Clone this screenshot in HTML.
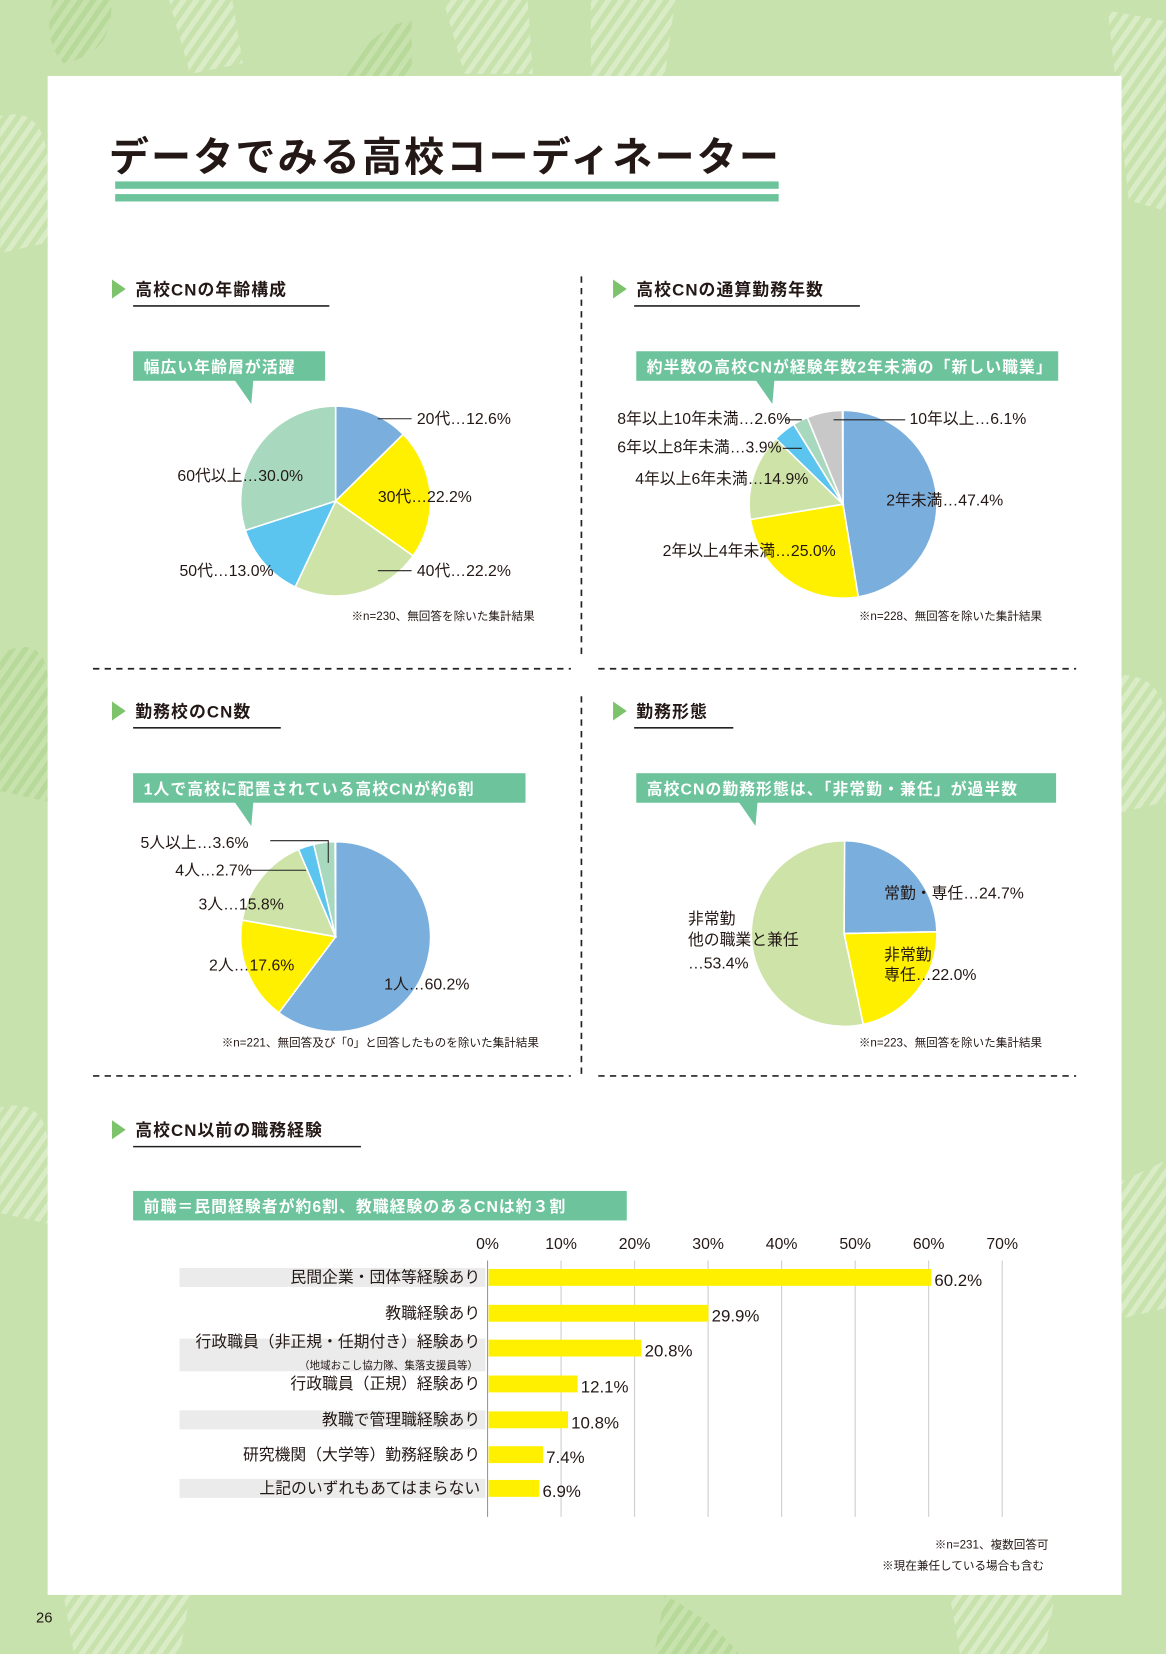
<!DOCTYPE html>
<html><head><meta charset="utf-8"><style>
html,body{margin:0;padding:0;background:#c8e2ad;}
svg{display:block;}
text{font-family:"Liberation Sans","Noto Sans CJK JP",sans-serif;fill:#231815;}
</style></head><body>
<svg id="s" width="1166" height="1654" viewBox="0 0 1105 1568" xmlns="http://www.w3.org/2000/svg">
<defs>
<pattern id="st" width="10" height="10" patternUnits="userSpaceOnUse" patternTransform="rotate(35)">
<rect width="10" height="10" fill="#c8e2ad"/><rect width="5" height="10" fill="#d9ecc6"/></pattern>
<pattern id="st2" width="10" height="10" patternUnits="userSpaceOnUse" patternTransform="rotate(35)">
<rect width="10" height="10" fill="#c8e2ad"/><rect width="5" height="10" fill="#b7d99a"/></pattern>
</defs>
<rect width="1105" height="1568" fill="#c8e2ad"/>
<path d="M50 0 L105 0 Q110 50 60 60 Q40 40 50 0Z" fill="url(#st2)"/>
<path d="M160 0 L220 0 L230 60 L180 70Z" fill="url(#st)"/>
<path d="M315 80 Q360 20 390 20 L390 72 L300 72Z" fill="url(#st2)"/>
<path d="M420 0 L500 0 L505 70 L440 70Z" fill="url(#st)"/>
<path d="M560 0 L640 0 L630 72 L560 72Z" fill="url(#st)"/>
<path d="M1050 10 L1105 20 L1105 200 L1070 190Z" fill="url(#st)"/>
<path d="M0 110 Q40 100 45 150 L45 230 L0 240Z" fill="url(#st)"/>
<path d="M0 620 Q40 600 45 640 L45 760 L0 750Z" fill="url(#st2)"/>
<path d="M0 1050 Q40 1040 45 1080 L45 1160 L0 1150Z" fill="url(#st)"/>
<path d="M1063 640 Q1100 640 1105 680 L1105 760 L1063 770Z" fill="url(#st)"/>
<path d="M1063 1120 L1105 1100 L1105 1240 L1063 1250Z" fill="url(#st)"/>
<path d="M60 1512 L180 1512 L170 1568 L70 1568Z" fill="url(#st)"/>
<path d="M630 1512 Q680 1540 700 1568 L620 1568Z" fill="url(#st2)"/>
<path d="M900 1512 L1000 1512 L990 1568 L910 1568Z" fill="url(#st)"/>
<rect x="45" y="72" width="1018" height="1440" fill="#fff"/>
<text x="103" y="162" font-size="38" font-weight="bold" letter-spacing="2">データでみる高校コーディネーター</text>
<rect x="109" y="172" width="629" height="7" fill="#6cc39c"/>
<rect x="109" y="184" width="629" height="7" fill="#6cc39c"/>
<g stroke="#222" stroke-width="1.6" stroke-dasharray="6,5" fill="none">
<line x1="551" y1="262" x2="551" y2="622"/><line x1="551" y1="660" x2="551" y2="1020"/>
<line x1="88" y1="634" x2="541" y2="634"/><line x1="567" y1="634" x2="1020" y2="634"/>
<line x1="88" y1="1020" x2="541" y2="1020"/><line x1="567" y1="1020" x2="1020" y2="1020"/>
</g>
<g id="heads"></g>
<g id="pies"></g>
<g font-size="15">
<text x="395" y="402">20代…12.6%</text>
<text x="358" y="476">30代…22.2%</text>
<text x="395" y="546">40代…22.2%</text>
<text x="170" y="546">50代…13.0%</text>
<text x="168" y="456">60代以上…30.0%</text>
<text x="862" y="402">10年以上…6.1%</text>
<text x="840" y="479">2年未満…47.4%</text>
<text x="628" y="527">2年以上4年未満…25.0%</text>
<text x="602" y="459">4年以上6年未満…14.9%</text>
<text x="585" y="429">6年以上8年未満…3.9%</text>
<text x="585" y="402">8年以上10年未満…2.6%</text>
<text x="133" y="804">5人以上…3.6%</text>
<text x="166" y="830">4人…2.7%</text>
<text x="188" y="862">3人…15.8%</text>
<text x="198" y="920">2人…17.6%</text>
<text x="364" y="938">1人…60.2%</text>
<text x="838" y="852">常勤・専任…24.7%</text>
<text x="838" y="910">非常勤</text><text x="838" y="929">専任…22.0%</text>
<text x="652" y="876">非常勤</text><text x="652" y="896">他の職業と兼任</text><text x="652" y="918">…53.4%</text>
</g>
<g stroke="#222" stroke-width="1" fill="none">
<line x1="358" y1="397" x2="390" y2="397"/><line x1="358" y1="541" x2="390" y2="541"/>
<line x1="790" y1="398" x2="858" y2="398"/><line x1="744" y1="398" x2="760" y2="398"/><line x1="742" y1="425" x2="760" y2="425"/>
<polyline points="256,797 311,797 311,818"/><line x1="236" y1="825" x2="290" y2="825"/>
</g>
<g font-size="11">
<text x="333" y="588">※n=230、無回答を除いた集計結果</text>
<text x="814" y="588">※n=228、無回答を除いた集計結果</text>
<text x="210" y="992">※n=221、無回答及び「0」と回答したものを除いた集計結果</text>
<text x="814" y="992">※n=223、無回答を除いた集計結果</text>
<text x="886" y="1468">※n=231、複数回答可</text>
<text x="836" y="1488">※現在兼任している場合も含む</text>
</g>
<g id="bars"></g>
<text x="34" y="1538" font-size="14">26</text>
</svg>
<script>
var NS="http://www.w3.org/2000/svg";
function el(p,t,a,tx){var e=document.createElementNS(NS,t);for(var k in a)e.setAttribute(k,a[k]);if(tx)e.textContent=tx;document.getElementById(p).appendChild(e);return e;}
var C={b:"#7aaedd",y:"#fff000",g:"#cde3a8",c:"#5bc4ef",m:"#a8d8be",r:"#c8c8c8"};
function pie(cx,cy,r,d){var a=0;d.forEach(function(s){var a2=a+s[0]/100*2*Math.PI;var x1=cx+r*Math.sin(a),y1=cy-r*Math.cos(a),x2=cx+r*Math.sin(a2),y2=cy-r*Math.cos(a2);
el("pies","path",{d:"M"+cx+" "+cy+"L"+x1+" "+y1+"A"+r+" "+r+" 0 "+((a2-a)>Math.PI?1:0)+" 1 "+x2+" "+y2+"Z",fill:C[s[1]],stroke:"#fff","stroke-width":1.5});a=a2;});}
pie(318,475,90,[[12.6,"b"],[22.2,"y"],[22.2,"g"],[13,"c"],[30,"m"]]);
pie(799,478,89,[[47.4,"b"],[25,"y"],[14.9,"g"],[3.9,"c"],[2.6,"m"],[6.1,"r"]]);
pie(318,888,90,[[60.2,"b"],[17.6,"y"],[15.8,"g"],[2.7,"c"],[3.6,"m"]]);
pie(800,885,88,[[24.7,"b"],[22,"y"],[53.4,"g"]]);
function head(x,y,t,w){el("heads","path",{d:"M"+x+" "+(y-9)+"L"+(x+13)+" "+y+"L"+x+" "+(y+9)+"Z",fill:"#7dc36b"});
el("heads","text",{x:x+22,y:y+6,"font-size":16,"font-weight":"bold","letter-spacing":1},t);el("heads","line",{x1:x+20,y1:y+16,x2:x+20+w,y2:y+16,stroke:"#222","stroke-width":1.5});}
head(106,274,"高校CNの年齢構成",186);head(581,274,"高校CNの通算勤務年数",214);
head(106,674,"勤務校のCN数",140);head(581,674,"勤務形態",94);head(106,1071,"高校CN以前の職務経験",216);
function call(x,y,w,t,tx){el("heads","rect",{x:x,y:y,width:w,height:28,fill:"#6cc39c"});
if(tx)el("heads","path",{d:"M"+tx+" "+(y+27)+"L"+(tx+18)+" "+(y+27)+"L"+(tx+16)+" "+(y+50)+"Z",fill:"#6cc39c"});
el("heads","text",{x:x+10,y:y+20,"font-size":15,"font-weight":"bold",fill:"#fff",style:"fill:#fff","letter-spacing":1},t);}
call(126,333,182,"幅広い年齢層が活躍",222);call(603,333,400,"約半数の高校CNが経験年数2年未満の「新しい職業」",716);
call(126,733,372,"1人で高校に配置されている高校CNが約6割",222);call(603,733,398,"高校CNの勤務形態は、「非常勤・兼任」が過半数",700);
call(126,1129,468,"前職＝民間経験者が約6割、教職経験のあるCNは約３割",0);
for(var i=0;i<=7;i++){var x=462+i*69.7;el("bars","line",{x1:x,y1:1195,x2:x,y2:1438,stroke:"#ccc","stroke-width":1});
el("bars","text",{x:x,y:1184,"font-size":15,"text-anchor":"middle"},(i*10)+"%");}
var B=[["民間企業・団体等経験あり",60.2,1211,1],["教職経験あり",29.9,1245,0],["行政職員（非正規・任期付き）経験あり",20.8,1278,1],["行政職員（正規）経験あり",12.1,1312,0],["教職で管理職経験あり",10.8,1346,1],["研究機関（大学等）勤務経験あり",7.4,1379,0],["上記のいずれもあてはまらない",6.9,1411,1]];
B.forEach(function(b){if(b[3])el("bars","rect",{x:170,y:b[2]-9,width:290,height:18,fill:"#ebebeb"});
el("bars","rect",{x:463,y:b[2]-8,width:b[1]*6.97,height:16,fill:"#fff000"});
el("bars","text",{x:455,y:b[2]+(b[0].indexOf("非正規")>0?-1:5),"font-size":15,"text-anchor":"end"},b[0]);
el("bars","text",{x:466+b[1]*6.97,y:b[2]+8,"font-size":16},b[1].toFixed(1)+"%");});
el("bars","rect",{x:170,y:1286,width:290,height:14,fill:"#ebebeb"});
el("bars","text",{x:453,y:1298,"font-size":10,"text-anchor":"end"},"（地域おこし協力隊、集落支援員等）");
el("bars","line",{x1:462,y1:1195,x2:462,y2:1438,stroke:"#999","stroke-width":1});
</script>
</body></html>
